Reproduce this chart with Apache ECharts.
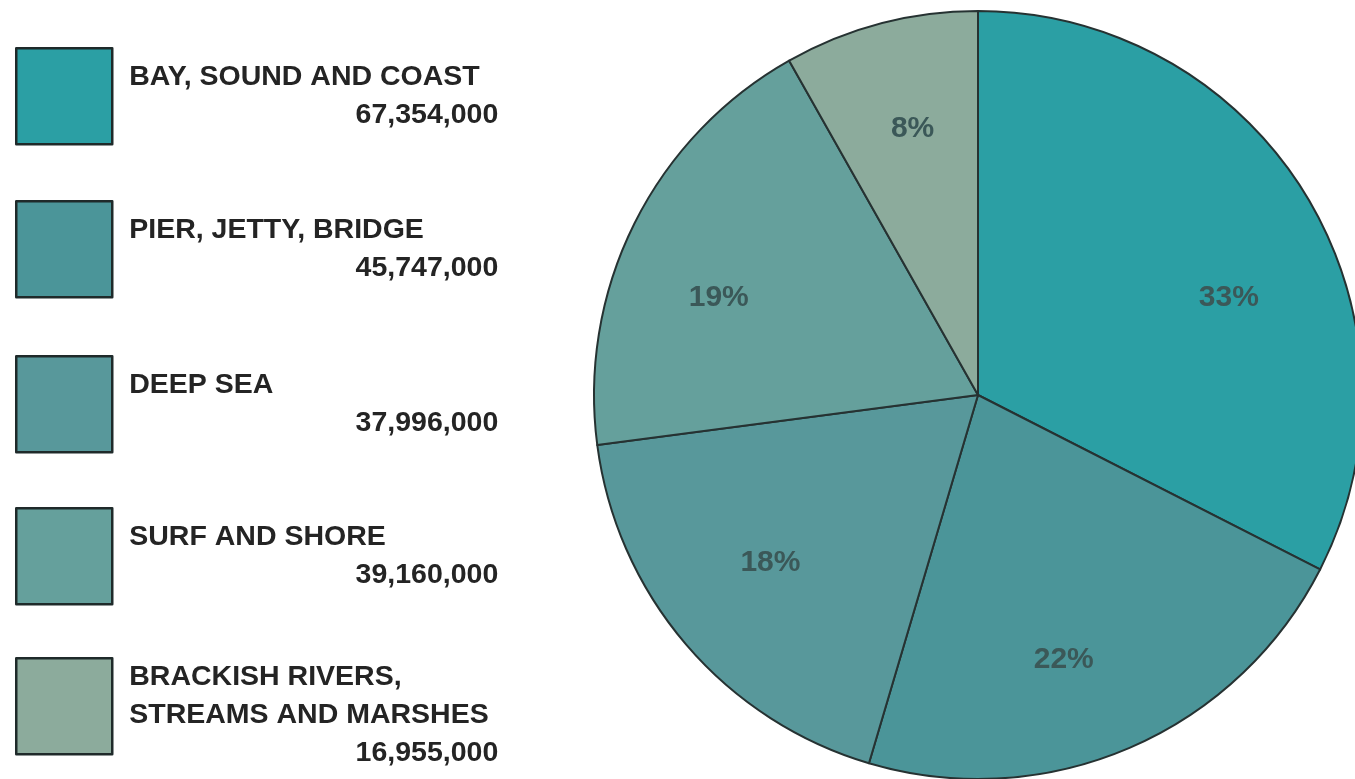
<!DOCTYPE html>
<html>
<head>
<meta charset="utf-8">
<script src="https://cdn.jsdelivr.net/npm/echarts@6/dist/echarts.min.js"></script>
<style>
  html, body { margin: 0; padding: 0; background: #fff; }
  #pie { width: 1355px; height: 779px; }
</style>
</head>
<body>
<div id="pie"></div>
<script>
// categories and values
var names = [
  'BAY, SOUND AND COAST',
  'PIER, JETTY, BRIDGE',
  'DEEP SEA',
  'SURF AND SHORE',
  'BRACKISH RIVERS,\nSTREAMS AND MARSHES'
];
var values = [67354000, 45747000, 37996000, 39160000, 16955000];
var colors = ['#2b9fa4', '#4b9599', '#58989b', '#65a09c', '#8cab9c'];

// small nudges so the % labels sit where the original printer put them
var labelNudge = [[18, 45], [-22, 14], [0, -10], [-15, 25], [4, -2]];

var myChart = echarts.init(document.getElementById('pie'));

var pieData = names.map(function (n, i) {
  return { name: n, value: values[i], itemStyle: { color: colors[i] } };
});

function fmtNum(v) {
  return v.toString().replace(/\B(?=(\d{3})+(?!\d))/g, ',');
}

var richText = {
  fontFamily: 'Liberation Sans', fontWeight: 'bold', fontSize: 28.5,
  lineHeight: 38, color: '#242424', width: 369, padding: [0, 0, 0, 12]
};

// 每个图例单独放一个 legend，方便控制位置
var legendTops = [47, 200, 355, 507, 657];
var legends = names.map(function (n, i) {
  return {
    orient: 'vertical',
    left: 15,
    top: legendTops[i],
    padding: 0,
    selectedMode: false,
    data: [n],
    icon: 'rect',
    itemWidth: 96,
    itemHeight: 96,
    itemStyle: { borderColor: '#1f2a2a', borderWidth: 2.5 },
    formatter: function (name) {
      var idx = names.indexOf(name);
      var lines = name.split('\n').map(function (l) { return '{n|' + l + '}'; });
      return lines.join('\n') + '\n{v|' + fmtNum(values[idx]) + '}';
    },
    textStyle: {
      padding: i === 4 ? [18, 0, 0, 0] : 0,
      rich: {
        n: Object.assign({ align: 'left' }, richText),
        v: Object.assign({ align: 'right' }, richText)
      }
    }
  };
});

var option = {
  animation: false,
  legend: legends,
  series: [
    {
      name: 'pie',
      type: 'pie',
      center: [978, 395],
      radius: 384,
      startAngle: 90,
      clockwise: true,
      silent: true,
      label: { show: false },
      labelLine: { show: false },
      itemStyle: { borderColor: '#263232', borderWidth: 2 },
      data: pieData
    },
    {
      // 透明的大饼，只用来放百分比标签
      name: 'labels',
      type: 'pie',
      center: [978, 395],
      radius: [0, 540],
      startAngle: 90,
      clockwise: true,
      silent: true,
      percentPrecision: 0,
      itemStyle: { color: 'rgba(0,0,0,0)', borderWidth: 0 },
      label: {
        show: true,
        position: 'inside',
        formatter: '{d}%',
        fontFamily: 'Liberation Sans',
        fontWeight: 'bold',
        fontSize: 30,
        color: '#3b5858'
      },
      labelLine: { show: false },
      emphasis: { disabled: true },
      data: names.map(function (n, i) {
        return { name: n, value: values[i], label: { offset: labelNudge[i] } };
      })
    }
  ]
};

myChart.setOption(option);
</script>
</body>
</html>
